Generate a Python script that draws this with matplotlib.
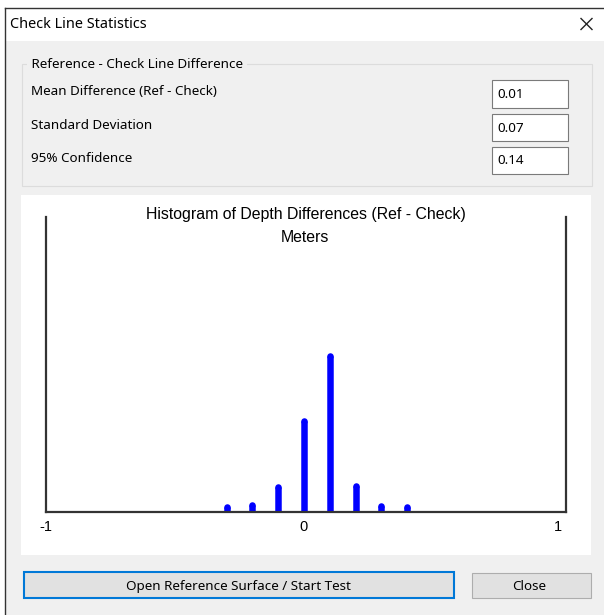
import matplotlib
matplotlib.use("Agg")
import matplotlib.pyplot as plt
from matplotlib.patches import Rectangle

# ---- data ----
bin_centers = [-0.3, -0.2, -0.1, 0.0, 0.1, 0.2, 0.3, 0.4]
bin_percent = [1.7, 2.4, 8.5, 30.7, 52.9, 8.8, 2.0, 1.7]
tick_values = [-1, 0, 1]
tick_labels = ["-1", "0", "1"]
stat_labels = ["Mean Difference (Ref - Check)", "Standard Deviation", "95% Confidence"]
stat_values = ["0.01", "0.07", "0.14"]

W, H = 604, 615
fig = plt.figure(figsize=(W / 100, H / 100), dpi=100)
fig.patch.set_facecolor("white")

# pixel-space background axes for dialog chrome
bg = fig.add_axes([0, 0, 1, 1])
bg.set_xlim(0, W)
bg.set_ylim(H, 0)
bg.axis("off")

UI = ["Noto Sans", "DejaVu Sans"]
UI_SIZE = 9.7


def rect(x0, y0, x1, y1, fc="none", ec="none", lw=1.0, z=1):
    bg.add_patch(Rectangle((x0, y0), x1 - x0, y1 - y0, facecolor=fc,
                           edgecolor=ec, linewidth=lw, zorder=z))


# window
rect(5, 8, 604, 615, fc="#f0f0f0", z=0)
rect(5, 8, 604, 41, fc="white", z=0.5)
bg.plot([5, 5], [8, 615], color="#333333", lw=1.0, zorder=2)
bg.plot([5, 604], [8, 8], color="#333333", lw=1.0, zorder=2)
bg.text(10, 25, "Check Line Statistics", family=UI, fontsize=10.4,
        va="center", ha="left", color="black")
bg.plot([581, 592], [18.5, 29.5], color="#222222", lw=1.0)
bg.plot([581, 592], [29.5, 18.5], color="#222222", lw=1.0)

# group box
rect(21.5, 63.5, 591.5, 185.5, ec="#dcdcdc", lw=0.8, z=1)
bg.text(28, 64, " Reference - Check Line Difference ", family=UI,
        fontsize=UI_SIZE, va="center", ha="left", color="black",
        bbox=dict(facecolor="#f0f0f0", edgecolor="none", pad=0.5), zorder=3)

label_y = [91.5, 125.5, 158.5]
box_y = [(79, 107), (113, 140), (146, 173)]
for lab, val, ly, (b0, b1) in zip(stat_labels, stat_values, label_y, box_y):
    bg.text(31, ly, lab, family=UI, fontsize=UI_SIZE, va="center", ha="left")
    rect(491.5, b0 + 0.5, 567.5, b1 + 0.5, fc="white", ec="#7a7a7a", lw=0.8, z=2)
    bg.text(497, (b0 + b1) / 2 + 1.5, val, family=UI, fontsize=UI_SIZE,
            va="center", ha="left", zorder=3)

# chart panel
rect(21, 195, 591, 555, fc="white", z=1)

# buttons
rect(24, 572, 454, 598, fc="#e1e1e1", ec="#0078d7", lw=1.5, z=2)
bg.text(238, 586.5, "Open Reference Surface / Start Test", family=UI,
        fontsize=UI_SIZE, va="center", ha="center", zorder=3)
rect(471.5, 572.5, 590.5, 597.5, fc="#e1e1e1", ec="#adadad", lw=0.8, z=2)
bg.text(529, 586.5, "Close", family=UI, fontsize=UI_SIZE, va="center",
        ha="center", zorder=3)

# ---- histogram axes ----
ax_l, ax_r, ax_t, ax_b = 46, 566, 217, 512
ax = fig.add_axes([ax_l / W, 1 - ax_b / H, (ax_r - ax_l) / W, (ax_b - ax_t) / H])
ax.set_facecolor("none")
ax.set_zorder(5)
x_right = 1.0 + (ax_r - 562) / 258.0
ax.set_xlim(-1.0, x_right)
ax.set_ylim(0, 100)

lw_pt = 6.5 * 72 / 100
ax.vlines(bin_centers, 0, bin_percent, colors="#0000ff", linewidth=lw_pt,
          capstyle="butt", zorder=3)
ax.plot(bin_centers, bin_percent, linestyle="none", marker="o",
        markersize=lw_pt, color="#0000ff", markeredgewidth=0, zorder=3)

for s in ["left", "right", "bottom"]:
    ax.spines[s].set_color("#333333")
    ax.spines[s].set_linewidth(1.6)
    ax.spines[s].set_zorder(4)
ax.spines["top"].set_visible(False)
ax.set_yticks([])
ax.set_xticks(tick_values)
ax.set_xticklabels(tick_labels, family=["Liberation Sans"], fontsize=10.5)
ax.tick_params(axis="x", length=0, pad=6)
lbls = ax.get_xticklabels()
lbls[-1].set_horizontalalignment("right")

bg.text(306, 214, "Histogram of Depth Differences (Ref - Check)",
        family=["Liberation Sans"], fontsize=11.4, ha="center", va="center",
        zorder=6)
bg.text(305, 237, "Meters", family=["Liberation Sans"], fontsize=11.4,
        ha="center", va="center", zorder=6)

fig.savefig("out.png", dpi=100)
